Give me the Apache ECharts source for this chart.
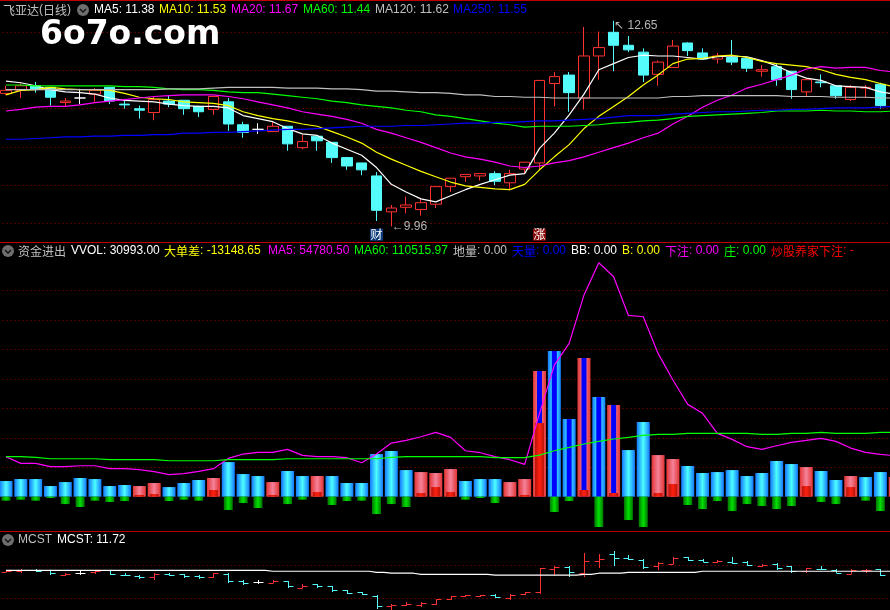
<!DOCTYPE html>
<html><head><meta charset="utf-8">
<style>html,body{margin:0;padding:0;background:#000}#c{width:890px;height:610px}</style>
<script src="https://cdn.jsdelivr.net/npm/echarts@6/dist/echarts.min.js"></script>
</head><body><div id="c"></div>
<script>
const categories = Array.from({length:61},(_, i)=>String(i+1));
const opens  = [11.70,11.74,11.80,11.78,11.58,11.64,11.69,11.78,11.56,11.50,11.45,11.60,11.61,11.53,11.49,11.59,11.29,11.23,11.20,11.27,10.99,11.14,11.06,10.86,10.79,10.62,10.15,10.21,10.18,10.25,10.48,10.61,10.62,10.65,10.53,10.71,10.79,11.83,11.94,11.64,12.19,12.50,12.33,12.24,11.95,12.04,12.36,12.23,12.15,12.17,12.16,11.99,12.05,11.99,11.72,11.85,11.80,11.62,11.77,11.82];
const closes = [11.74,11.80,11.75,11.65,11.60,11.64,11.74,11.60,11.55,11.48,11.62,11.56,11.50,11.46,11.66,11.30,11.19,11.23,11.27,11.04,11.07,11.08,10.86,10.75,10.70,10.17,10.20,10.24,10.27,10.48,10.59,10.64,10.65,10.55,10.65,10.80,11.87,11.92,11.71,12.19,12.30,12.33,12.27,11.94,12.11,12.32,12.26,12.15,12.19,12.11,12.03,12.01,11.88,11.75,11.88,11.84,11.67,11.78,11.78,11.54];
const lows   = [11.68,11.64,11.71,11.54,11.53,11.56,11.59,11.56,11.50,11.37,11.35,11.52,11.42,11.39,11.42,11.21,11.12,11.17,11.20,10.95,10.97,10.95,10.79,10.70,10.63,10.03,9.96,10.13,10.10,10.20,10.41,10.54,10.56,10.50,10.43,10.65,10.70,11.53,11.46,11.49,11.88,11.99,12.24,11.85,11.80,12.04,12.19,12.15,12.09,12.07,11.98,11.92,11.80,11.63,11.66,11.78,11.63,11.60,11.64,11.50];
const highs  = [11.80,11.83,11.85,11.78,11.64,11.76,11.77,11.78,11.63,11.54,11.66,11.67,11.61,11.54,11.66,11.64,11.33,11.31,11.33,11.27,11.16,11.14,11.06,10.87,10.79,10.67,10.24,10.35,10.33,10.48,10.59,10.64,10.65,10.68,10.70,10.80,11.87,11.98,11.98,12.57,12.51,12.65,12.45,12.29,12.13,12.40,12.37,12.29,12.23,12.40,12.18,12.07,12.09,11.99,11.88,11.95,11.81,11.81,11.81,11.84];
const ma5   = [11.86,11.84,11.80,11.75,11.72,11.71,11.69,11.64,11.61,11.60,11.59,11.56,11.54,11.53,11.53,11.51,11.41,11.37,11.33,11.24,11.17,11.15,11.05,10.97,10.89,10.73,10.51,10.41,10.32,10.28,10.36,10.44,10.51,10.57,10.63,10.65,10.98,11.18,11.42,11.69,12.01,12.09,12.17,12.20,12.19,12.19,12.17,12.15,12.18,12.19,12.18,12.13,12.06,11.97,11.90,11.87,11.80,11.79,11.78,11.72,11.69];
const ma10  = [11.68,11.74,11.75,11.78,11.76,11.75,11.75,11.74,11.70,11.65,11.63,11.62,11.59,11.58,11.57,11.54,11.46,11.41,11.37,11.34,11.30,11.27,11.20,11.13,11.05,10.93,10.84,10.76,10.68,10.61,10.54,10.49,10.47,10.45,10.44,10.51,10.70,10.87,11.03,11.24,11.40,11.53,11.66,11.81,11.94,12.09,12.15,12.16,12.19,12.20,12.17,12.12,12.09,12.07,12.05,12.01,11.95,11.91,11.88,11.83,11.78];
const ma20  = [11.47,11.49,11.52,11.53,11.53,11.55,11.58,11.60,11.62,11.64,11.66,11.67,11.68,11.68,11.68,11.66,11.63,11.59,11.55,11.51,11.46,11.43,11.40,11.36,11.31,11.23,11.18,11.12,11.06,10.99,10.92,10.87,10.84,10.80,10.75,10.73,10.75,10.79,10.82,10.87,10.93,10.99,11.05,11.12,11.18,11.30,11.40,11.52,11.61,11.68,11.77,11.82,11.88,11.94,12.02,12.05,12.03,12.04,12.04,12.00,11.98];
const ma60  = [11.81,11.81,11.80,11.80,11.80,11.80,11.80,11.80,11.79,11.79,11.78,11.76,11.75,11.75,11.74,11.72,11.71,11.71,11.69,11.67,11.65,11.63,11.60,11.58,11.55,11.53,11.51,11.48,11.46,11.42,11.40,11.37,11.34,11.31,11.29,11.26,11.27,11.27,11.27,11.28,11.29,11.31,11.32,11.34,11.35,11.37,11.40,11.41,11.42,11.43,11.44,11.45,11.47,11.47,11.47,11.48,11.47,11.47,11.46,11.46,11.47];
const ma120 = [11.75,11.75,11.75,11.75,11.75,11.75,11.75,11.75,11.75,11.75,11.75,11.76,11.76,11.76,11.77,11.78,11.78,11.78,11.78,11.77,11.77,11.77,11.76,11.76,11.75,11.73,11.73,11.72,11.71,11.71,11.70,11.68,11.68,11.66,11.66,11.65,11.65,11.64,11.64,11.64,11.64,11.64,11.64,11.64,11.64,11.66,11.66,11.67,11.67,11.67,11.67,11.67,11.67,11.66,11.66,11.66,11.65,11.65,11.65,11.64,11.64];
const ma250 = [11.10,11.10,11.11,11.12,11.13,11.13,11.14,11.14,11.15,11.15,11.16,11.16,11.18,11.18,11.19,11.19,11.20,11.21,11.22,11.23,11.23,11.24,11.25,11.26,11.27,11.27,11.27,11.28,11.28,11.29,11.30,11.31,11.31,11.32,11.32,11.33,11.34,11.34,11.35,11.36,11.37,11.39,11.41,11.41,11.41,11.43,11.44,11.45,11.46,11.46,11.47,11.48,11.48,11.49,11.49,11.50,11.51,11.51,11.51,11.52,11.53];
const volume = [21300,24000,24000,14500,19900,25400,24000,14500,15900,14500,18600,13100,18600,22700,25400,47100,30800,28100,19900,34900,28100,28100,28100,18600,18600,58000,62100,36200,33500,32200,37600,21300,24000,24000,19900,24000,170800,198000,105500,188400,135400,124600,63400,101500,56600,51200,41700,32200,33500,36200,28100,32200,48500,44400,40300,34900,22700,28100,26700,33500,26700];
const volumeIsRed = [0,0,0,0,0,0,0,0,0,1,1,0,0,0,1,0,0,0,1,0,0,1,0,0,0,0,0,0,1,1,1,0,0,0,1,1,1,0,0,1,0,1,0,0,1,1,0,0,0,0,0,0,0,0,1,0,0,1,0,0,1];
const bigOrderRed = [null,null,null,null,null,null,null,null,null,2300,3600,null,null,null,9100,null,null,null,2300,null,null,6300,null,null,null,null,null,null,5000,13100,6300,null,null,null,900,2300,100100,null,null,9100,null,5000,null,null,5000,17200,null,null,null,null,null,null,null,null,14500,null,null,13100,null,null,6300];
const heavenBlue = [null,null,null,null,null,null,null,null,null,null,null,null,null,null,null,null,null,null,null,null,null,null,null,null,null,null,null,null,null,null,null,null,null,null,null,null,170800,198000,105500,188400,135400,124600,null,null,null,null,null,null,null,null,null,null,null,null,null,null,null,null,null,null,null];
const outflowGreen = [-5400,-4100,-5400,-1800,-10000,-14000,-5400,-7200,-5900,null,null,-5900,-4100,-5400,null,-18100,-8600,-15400,null,-10000,-4100,null,-11300,-5900,-5400,-23600,-10000,-14000,null,null,null,-4100,-1800,-8600,null,null,null,-20800,-5900,null,-41200,null,-31700,-41200,null,null,-11300,-16800,-5900,-19500,-10000,-12700,-16800,-12700,null,-7200,-10000,null,-5400,-19500,null];
const volMa5 = [54400,45300,45300,40800,40800,42100,42100,38100,38100,36700,34000,29900,31300,34400,38100,52100,58000,60200,60200,64300,56200,54400,54400,53000,46200,58000,72900,76600,81500,87400,80600,62500,59800,54400,50300,43900,113300,178900,208400,274100,318000,299000,246400,244600,194800,158600,125500,113300,86100,77900,68000,64300,69300,73800,76600,79300,75200,66100,60200,57500,55700];
const volMa60 = [54400,54400,53500,51600,51600,51600,51600,50300,50300,50300,50300,48900,48900,48900,48900,50300,50300,50300,50300,51600,51600,51600,51600,51600,51600,51600,53500,54400,54400,54400,54400,54400,54400,53000,53000,53000,56600,62500,67000,71600,75200,78400,80600,83400,84700,84700,86100,86100,86100,86100,86100,84700,84700,86100,86100,87400,86100,86100,86100,87400,87400];
const mcst = [11.77,11.77,11.77,11.77,11.77,11.77,11.77,11.77,11.77,11.77,11.77,11.77,11.77,11.77,11.77,11.77,11.77,11.77,11.73,11.73,11.73,11.73,11.73,11.73,11.73,11.68,11.64,11.64,11.59,11.59,11.59,11.59,11.59,11.55,11.55,11.55,11.55,11.55,11.55,11.59,11.64,11.64,11.68,11.68,11.68,11.68,11.68,11.73,11.73,11.73,11.73,11.73,11.73,11.73,11.73,11.73,11.73,11.73,11.73,11.73,11.73];
const header1 = [["飞亚达(日线)",3,"#c0c0c0"],["MA5: 11.38",94,"#ffffff"],["MA10: 11.53",159,"#ffff00"],["MA20: 11.67",231,"#ff00ff"],["MA60: 11.44",303,"#00ff00"],["MA120: 11.62",375,"#c0c0c0"],["MA250: 11.55",453,"#0000ff"]];
const header2 = [["资金进出",18,"#c0c0c0"],["VVOL: 30993.00",71,"#ffffff"],["大单差: -13148.65",164,"#ffff00"],["MA5: 54780.50",268,"#ff00ff"],["MA60: 110515.97",354,"#00ff00"],["地量: 0.00",453,"#c0c0c0"],["天量: 0.00",512,"#0000ff"],["BB: 0.00",571,"#ffffff"],["B: 0.00",622,"#ffff00"],["下注: 0.00",665,"#ff00ff"],["庄: 0.00",724,"#00ff00"],["炒股养家下注: -",771,"#ff0000"]];
const header3 = [["MCST",18,"#c0c0c0"],["MCST: 11.72",57,"#ffffff"]];

const UP='#ff3232', DOWN='#54fcfc', GRID='#a00000', PANEL='#c00000';
const grad=(e,c)=>({type:'linear',x:0,y:0,x2:1,y2:0,colorStops:[{offset:0,color:e},{offset:.5,color:c},{offset:1,color:e}]});
const blueGrad=grad('#1478ff','#4cffff'), redGrad=grad('#e23434','#f5829a'), innerRed=grad('#b81408','#ff2010'), greenGrad=grad('#007400','#00e000');
const bandLeft=-1.41, bandW=14.82;
const G=(top,height)=>({left:bandLeft,top,width:bandW*61,height,outerBoundsMode:'none',containLabel:false,borderWidth:0,show:false});
const X=(g)=>({type:'category',gridIndex:g,data:categories,show:false,boundaryGap:true});
const gridLine={show:true,showMinLine:false,showMaxLine:false,lineStyle:{color:GRID,type:[1,3],width:1}};
const Y=(g,min,max,interval,split)=>({type:'value',gridIndex:g,min,max,interval,axisLabel:{show:false},axisTick:{show:false},axisLine:{show:false},splitLine:split?gridLine:{show:false}});
const line=(name,data,color,x,y,extra)=>Object.assign({name,type:'line',data,xAxisIndex:x,yAxisIndex:y,symbol:'none',silent:true,animation:false,z:5,lineStyle:{color,width:1.2}},extra||{});
const candles=opens.map((o,i)=>[o,closes[i],lows[i],highs[i]]);
const ohlc=opens.map((o,i)=>[i,o,closes[i],lows[i],highs[i]]);
const pin=(coord,text,fill)=>({coord,symbol:'rect',symbolSize:[13,12],itemStyle:{color:fill},label:{show:true,formatter:text,color:'#fff',fontSize:12,fontFamily:'Noto Sans CJK SC',position:'inside'}});
const note=(coord,text)=>({coord,symbol:'circle',symbolSize:1,itemStyle:{color:'rgba(0,0,0,0)'},label:{show:true,formatter:text,color:'#b4b4b4',fontSize:12,fontFamily:'Liberation Sans',position:'right',distance:0}});

const chart=echarts.init(document.getElementById('c'),null,{width:890,height:610,renderer:'canvas'});
const cjk=/([\u3400-\u9fff]+)/;
const text=(s,x,y,fill)=>{
  const parts=s.split(cjk).filter(Boolean);
  const rich={a:{fontFamily:'Noto Sans CJK SC',fontSize:12,fill,lineHeight:14},b:{fontFamily:'Liberation Sans',fontSize:12,fill,lineHeight:14}};
  return {type:'text',x,y,silent:true,z:50,style:{text:parts.map(p=>(cjk.test(p)?'{a|':'{b|')+p+'}').join(''),rich,fill,verticalAlign:'middle',textVerticalAlign:'middle'}};
};
const icon=(cx,cy)=>({type:'group',x:cx,y:cy,silent:true,z:50,children:[
  {type:'circle',shape:{cx:0,cy:0,r:6},style:{fill:'#6e6e6e'}},
  {type:'polyline',shape:{points:[[-3,-1],[0,2],[3,-1]]},style:{stroke:'#111',fill:null,lineWidth:1.4}}]});
const rule=(y)=>({type:'rect',shape:{x:0,y,width:890,height:1},style:{fill:PANEL},silent:true,z:40});

chart.setOption({
  animation:false,backgroundColor:'#000',
  grid:[G(-5.9,267.4),G(261.3,235.4),G(496.7,58.9),G(532.3,99)],
  xAxis:[X(0),X(1),X(1),X(1),X(2),X(3)],
  yAxis:[Y(0,9.5,13,0.5,true),Y(1,0,320000,40000,true),Y(2,-80000,0,40000,false),Y(3,9,13.5,1.5,true)],
  series:[
    {name:'K',type:'candlestick',xAxisIndex:0,yAxisIndex:0,data:candles,barWidth:11,z:3,
     itemStyle:{color:'rgba(0,0,0,0)',color0:DOWN,borderColor:UP,borderColor0:DOWN,borderColorDoji:'#ffffff',borderWidth:1},
     markPoint:{silent:true,animation:false,z:20,data:[pin([25,9.85],'财','#0a3a7a'),pin([36,9.85],'涨','#8a0c0c'),note([26,9.96],'←9.96'),note([41,12.59],'↖ 12.65')]}},
    line('MA5',ma5,'#ffffff',0,0),
    line('MA10',ma10,'#ffff00',0,0),
    line('MA20',ma20,'#ff00ff',0,0),
    line('MA60',ma60,'#00ff00',0,0),
    line('MA120',ma120,'#c0c0c0',0,0),
    line('MA250',ma250,'#0000ff',0,0),
    {name:'VVOL',type:'bar',xAxisIndex:1,yAxisIndex:1,barWidth:13,z:2,silent:true,
     data:volume.map((v,i)=>({value:v,itemStyle:{color:volumeIsRed[i]?redGrad:blueGrad}}))},
    {name:'天量',type:'bar',xAxisIndex:2,yAxisIndex:1,barWidth:5,z:3,silent:true,data:heavenBlue,itemStyle:{color:'#0000ff'}},
    {name:'大单差',type:'bar',xAxisIndex:3,yAxisIndex:1,barWidth:9,z:4,silent:true,data:bigOrderRed,itemStyle:{color:innerRed}},
    {name:'流出',type:'bar',xAxisIndex:4,yAxisIndex:2,barWidth:9,z:3,silent:true,data:outflowGreen,itemStyle:{color:greenGrad}},
    line('量MA5',volMa5,'#ff00ff',1,1),
    line('量MA60',volMa60,'#00ff00',1,1),
    {name:'美国线',type:'custom',xAxisIndex:5,yAxisIndex:3,data:ohlc,z:3,silent:true,clip:true,
     encode:{x:0,y:[1,2,3,4]},
     renderItem:(p,api)=>{
       const i=api.value(0),o=api.value(1),c=api.value(2),l=api.value(3),h=api.value(4);
       const color=c>o?UP:(c<o?DOWN:'#ffffff');
       const crisp=v=>Math.round(v)+0.5;
       const po=api.coord([i,o]),pc=api.coord([i,c]),pl=api.coord([i,l]),ph=api.coord([i,h]);
       const x=crisp(po[0]),st={stroke:color,lineWidth:1};
       return {type:'group',children:[
         {type:'line',shape:{x1:x,y1:Math.round(ph[1]),x2:x,y2:Math.round(pl[1])},style:st},
         {type:'line',shape:{x1:x-5,y1:crisp(po[1]),x2:x,y2:crisp(po[1])},style:st},
         {type:'line',shape:{x1:x,y1:crisp(pc[1]),x2:x+5,y2:crisp(pc[1])},style:st}]};
     }},
    line('MCST',mcst,'#ffffff',5,3,{step:'middle',lineStyle:{color:'#ffffff',width:1.2}})
  ],
  graphic:{elements:[
    rule(0),rule(242),rule(531),
    {type:'text',x:40,y:35,silent:true,z:60,style:{text:'6o7o.com',fill:'#ffffff',fontFamily:'DejaVu Sans',fontWeight:'bold',fontSize:33,verticalAlign:'middle',textVerticalAlign:'middle'}},
    icon(83,10),icon(8,251),icon(8,540),
    ...header1.map(h=>text(h[0],h[1],10,h[2])),
    ...header2.map(h=>text(h[0],h[1],251,h[2])),
    ...header3.map(h=>text(h[0],h[1],540,h[2]))
  ]}
});
</script></body></html>
